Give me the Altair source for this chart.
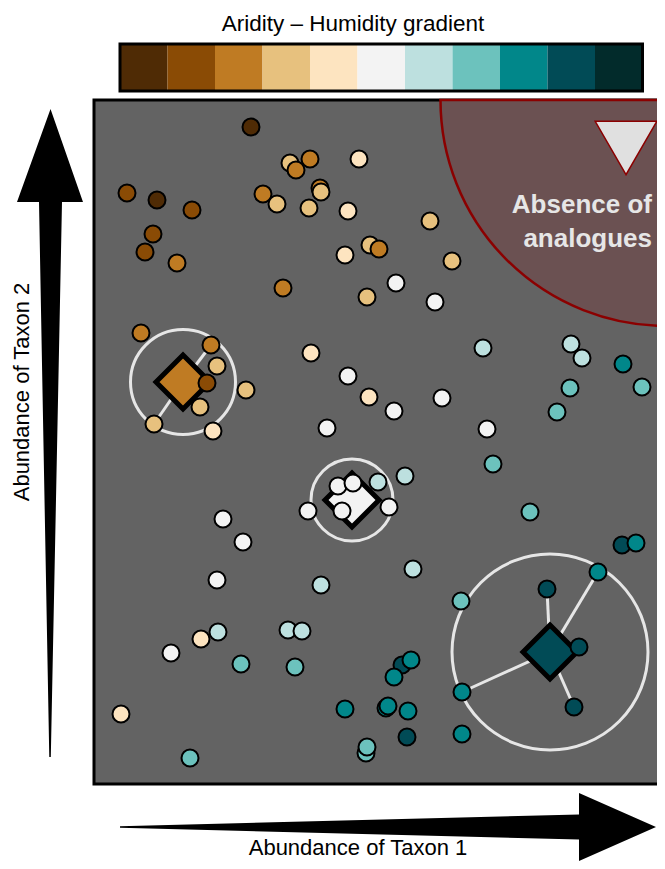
import math
import altair as alt
import pandas as pd

# ---------------- data ----------------
PALETTE = ["#4f2b05", "#8a4b05", "#bf7b23", "#e7c17e", "#fde4c0", "#f3f3f3",
           "#bde0df", "#6cc2bd", "#01878a", "#014b56", "#022b2b"]

# samples: abundance of taxon 1 (x), abundance of taxon 2 (y, picture units), gradient class 1..11
sample_x = [251, 290, 310, 296, 359, 127, 157, 192, 263, 277, 320, 321, 309, 348, 153, 145,
            177, 345, 370, 379, 283, 367, 430, 452, 396, 435,
            141, 211, 217, 207, 200, 154, 213, 246,
            311, 348, 369, 394, 327, 442, 487, 483, 571, 582, 623, 642, 570, 557, 493, 530,
            338, 353, 342, 308, 378, 389, 405,
            223, 243, 217, 321, 218, 201, 171, 288, 302, 241, 295, 121, 190, 345, 366, 367,
            622, 636, 413, 598, 547, 461, 579, 402, 411, 394, 462, 574, 386, 388, 408, 407, 462]
sample_y = [127, 163, 159, 170, 159, 193, 200, 210, 194, 204, 188, 192, 208, 211, 234, 252,
            263, 255, 245, 249, 288, 297, 221, 261, 283, 302,
            333, 345, 366, 383, 407, 424, 431, 390,
            353, 376, 397, 411, 428, 398, 429, 348, 344, 358, 364, 387, 388, 412, 464, 512,
            486, 483, 511, 511, 482, 507, 476,
            519, 542, 580, 585, 632, 639, 653, 630, 631, 664, 667, 714, 758, 709, 753, 747,
            545, 543, 569, 572, 589, 601, 647, 665, 660, 677, 692, 707, 708, 706, 711, 737, 734]
sample_cls = [1, 4, 3, 3, 5, 2, 1, 2, 3, 4, 3, 4, 4, 5, 2, 2,
              3, 5, 4, 3, 3, 4, 4, 4, 6, 6,
              3, 3, 4, 2, 4, 4, 5, 4,
              5, 6, 5, 6, 6, 6, 6, 7, 7, 7, 9, 8, 8, 8, 8, 8,
              6, 6, 6, 6, 7, 6, 7,
              6, 6, 6, 7, 7, 5, 6, 7, 7, 8, 8, 5, 8, 9, 8, 8,
              10, 9, 7, 9, 10, 8, 10, 10, 9, 9, 9, 10, 9, 9, 9, 10, 9]

# group centroids and their dispersion rings
centroid_x = [183, 352, 550]
centroid_y = [382, 500, 652]
centroid_cls = [3, 6, 10]
ring_diam = [105, 82, 196]

# spokes: centroid index -> sample position
spoke_group = [0, 0, 2, 2, 2, 2]
spoke_x = [211, 154, 547, 598, 462, 574]
spoke_y = [345, 424, 589, 572, 692, 707]

# colour bar edges
bar_edges = [120, 167.5, 215, 262.5, 310, 357.5, 405, 452.5, 500, 547.5, 595, 642.5]

# axis arrows (outline vertices), anchored at a reference point
varrow_anchor = (50, 433)
varrow_vx = [49.3, 39, 17, 50.5, 83, 62, 50.8]
varrow_vy = [757, 202, 202, 109, 202, 202, 757]
harrow_anchor = (390, 827)
harrow_vx = [120, 579, 579, 656, 579, 579, 120]
harrow_vy = [826.2, 814.5, 793, 827, 861, 839.5, 827.8]

# ---------------- helpers ----------------
XS = alt.Scale(domain=[8, 657], nice=False, zero=False)
YS = alt.Scale(domain=[8, 861], nice=False, zero=False, reverse=True)


def X(f):
    return alt.X(f, type="quantitative", scale=XS, axis=None)


def Y(f):
    return alt.Y(f, type="quantitative", scale=YS, axis=None)


def arrow_path(anchor, vx, vy, r):
    pts = ["%.4f,%.4f" % ((a - anchor[0]) / r, (b - anchor[1]) / r) for a, b in zip(vx, vy)]
    return "M" + "L".join(pts) + "Z"


FONT = "Liberation Sans"
R = 400.0

# ---------------- layers ----------------
panel = alt.Chart(pd.DataFrame({"x": [94], "x2": [720], "y": [100], "y2": [784]})).mark_rect(
    fill="#636363", stroke="black", strokeWidth=3
).encode(x=X("x"), x2="x2", y=Y("y"), y2="y2")

arc = alt.Chart(pd.DataFrame({"x": [666.5], "y": [100]})).mark_arc(
    radius=226, theta=math.pi, theta2=1.5 * math.pi,
    fill="#6b5152", stroke="#8b0000", strokeWidth=2.5
).encode(x=X("x"), y=Y("y"))

rings = alt.Chart(pd.DataFrame({"x": centroid_x, "y": centroid_y,
                                "s": [d * d for d in ring_diam]})).mark_point(
    shape="circle", filled=False, stroke="#e6e6e6", strokeWidth=3, opacity=1
).encode(x=X("x"), y=Y("y"), size=alt.Size("s:Q", scale=None))

spokes = alt.Chart(pd.DataFrame({
    "x": [centroid_x[g] for g in spoke_group],
    "y": [centroid_y[g] for g in spoke_group],
    "x2": spoke_x, "y2": spoke_y})).mark_rule(
    stroke="#e6e6e6", strokeWidth=3
).encode(x=X("x"), y=Y("y"), x2="x2", y2="y2")

diamonds = alt.Chart(pd.DataFrame({"x": centroid_x, "y": centroid_y,
                                   "col": [PALETTE[c - 1] for c in centroid_cls]})).mark_point(
    shape="diamond", size=2916, filled=True, stroke="black", strokeWidth=5, opacity=1
).encode(x=X("x"), y=Y("y"), fill=alt.Fill("col:N", scale=None))

points = alt.Chart(pd.DataFrame({"x": sample_x, "y": sample_y,
                                 "col": [PALETTE[c - 1] for c in sample_cls]})).mark_point(
    shape="circle", size=289, filled=True, stroke="black", strokeWidth=2, opacity=1
).encode(x=X("x"), y=Y("y"), fill=alt.Fill("col:N", scale=None))

triangle = alt.Chart(pd.DataFrame({"x": [626], "y": [148]})).mark_point(
    shape="triangle-down", size=3795, filled=True, fill="#e0e0e0",
    stroke="#8b0000", strokeWidth=1.5, opacity=1
).encode(x=X("x"), y=Y("y"))

absence = alt.Chart(pd.DataFrame({"x": [652, 652], "y": [213, 246.5],
                                  "t": ["Absence of", "analogues"]})).mark_text(
    font=FONT, fontSize=26, fontWeight="bold", color="#e6e6e6",
    align="right", baseline="alphabetic"
).encode(x=X("x"), y=Y("y"), text="t:N")

bar = alt.Chart(pd.DataFrame({"x": bar_edges[:-1], "x2": bar_edges[1:],
                              "y": [44] * 11, "y2": [91] * 11,
                              "col": PALETTE})).mark_rect().encode(
    x=X("x"), x2="x2", y=Y("y"), y2="y2", fill=alt.Fill("col:N", scale=None))

bar_border = alt.Chart(pd.DataFrame({"x": [bar_edges[0]], "x2": [bar_edges[-1]],
                                     "y": [44], "y2": [91]})).mark_rect(
    fill=None, stroke="black", strokeWidth=3
).encode(x=X("x"), x2="x2", y=Y("y"), y2="y2")

title = alt.Chart(pd.DataFrame({"x": [353], "y": [31], "t": ["Aridity \u2013 Humidity gradient"]})).mark_text(
    font=FONT, fontSize=22.5, color="black", align="center", baseline="alphabetic"
).encode(x=X("x"), y=Y("y"), text="t:N")

varrow = alt.Chart(pd.DataFrame({"x": [varrow_anchor[0]], "y": [varrow_anchor[1]]})).mark_point(
    shape=arrow_path(varrow_anchor, varrow_vx, varrow_vy, R), size=(2 * R) ** 2,
    filled=True, fill="black", strokeWidth=0, opacity=1
).encode(x=X("x"), y=Y("y"))

harrow = alt.Chart(pd.DataFrame({"x": [harrow_anchor[0]], "y": [harrow_anchor[1]]})).mark_point(
    shape=arrow_path(harrow_anchor, harrow_vx, harrow_vy, R), size=(2 * R) ** 2,
    filled=True, fill="black", strokeWidth=0, opacity=1
).encode(x=X("x"), y=Y("y"))

labels = alt.Chart(pd.DataFrame({"x": [358, 29], "y": [855, 392], "a": [0, 270],
                                 "t": ["Abundance of Taxon 1", "Abundance of Taxon 2"]})).mark_text(
    font=FONT, fontSize=22, color="black", align="center", baseline="alphabetic"
).encode(x=X("x"), y=Y("y"), text="t:N", angle=alt.Angle("a:Q", scale=None))

chart = alt.layer(
    panel, arc, rings, spokes, diamonds, points, triangle, absence,
    bar, bar_border, title, varrow, harrow, labels
).properties(
    width=649, height=853, padding=0, autosize="none", background="white"
).configure_view(stroke=None)

chart.save("out.html", embed_options={"renderer": "svg", "actions": False})
